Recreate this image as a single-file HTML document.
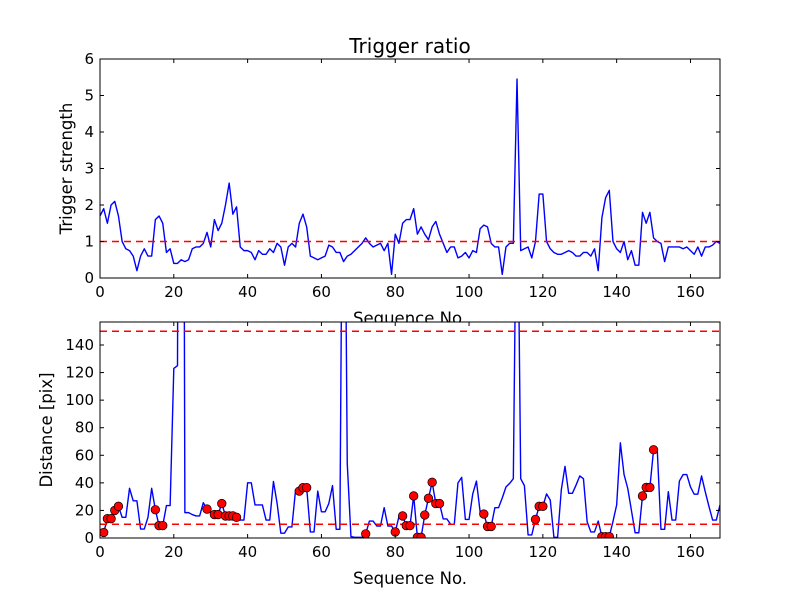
<!DOCTYPE html>
<html><head><meta charset="utf-8"><style>
body{margin:0;background:#fff;}
svg{display:block;font-family:"DejaVu Sans","Liberation Sans",sans-serif;}
</style></head><body>
<svg id="fig" width="800" height="600" xmlns="http://www.w3.org/2000/svg"></svg>
<script>
const xTicks=[0,20,40,60,80,100,120,140,160];
const topTicks=[0,1,2,3,4,5,6];
const botTicks=[0,20,40,60,80,100,120,140];
const ratio=[1.7,1.9,1.5,2.0,2.1,1.7,1.0,0.8,0.75,0.6,0.2,0.6,0.8,0.6,0.6,1.6,1.7,1.5,0.7,0.8,0.4,0.4,0.5,0.45,0.5,0.8,0.85,0.85,0.95,1.25,0.85,1.6,1.3,1.5,2.0,2.6,1.75,1.95,0.85,0.75,0.75,0.7,0.5,0.75,0.65,0.65,0.8,0.7,0.95,0.85,0.35,0.85,0.95,0.85,1.5,1.75,1.4,0.6,0.55,0.5,0.55,0.6,0.9,0.85,0.7,0.7,0.45,0.6,0.65,0.75,0.85,0.95,1.1,0.95,0.85,0.9,0.95,0.75,0.95,0.1,1.2,0.95,1.5,1.6,1.6,1.9,1.2,1.4,1.2,1.05,1.4,1.55,1.2,0.95,0.7,0.85,0.85,0.55,0.6,0.7,0.55,0.75,0.7,1.35,1.45,1.4,0.95,0.85,0.85,0.1,0.85,0.95,0.95,5.45,0.75,0.8,0.85,0.55,1.0,2.3,2.3,1.0,0.8,0.7,0.65,0.65,0.7,0.75,0.7,0.6,0.6,0.7,0.7,0.6,0.8,0.2,1.65,2.2,2.4,1.0,0.8,0.7,1.0,0.5,0.75,0.35,0.35,1.8,1.5,1.8,1.1,1.0,0.95,0.45,0.85,0.85,0.85,0.85,0.8,0.85,0.75,0.65,0.85,0.6,0.85,0.85,0.9,1.0,0.95];
const dist=[3,4,14,14,20,23,15,15,36,27,27,6.5,6.5,15,36,20.5,9,9,23.5,23.5,123,125,1000,18.4,18.4,17,16,16,25.6,21,18,17,17,25,16,16,16,15,13,13,40,40,24,24,24,13,13,41,25,3.5,3.5,8,8,35,34,36.5,36.5,4.4,4.4,34,19,19,25,38,6.3,6.3,400,54,1,0.5,0.5,0.5,3,12.3,12.3,8.7,8.7,22,8.7,8.7,4.4,15.5,16,9,9,30.5,0.5,0.5,16.7,28.8,40.4,25,25,13.8,13.8,10,10,40,44,13.5,13.5,32,41.3,19,17.4,8.4,8.4,22,22,29,37,39.6,43,300,43,38,2.2,2.2,13.5,23,23,32,27.6,0.5,0.5,35,52,32.4,32.4,38.4,45,43,11.8,4.4,4.4,12.3,1,1,1,12,24,69,46,36,20,3.8,3.8,30.5,36.7,36.7,64,64,6.3,6.3,33.6,13,13,41.3,46,46,37,31.8,31.8,45,33.6,23,13,13,24];
const markerIdx=[1,2,3,4,5,15,16,17,29,31,32,33,34,35,36,37,54,55,56,72,80,82,83,84,85,86,87,88,89,90,91,92,104,105,106,118,119,120,136,137,138,147,148,149,150];
const topThresh=[1];
const botThresh=[10,150];

const NS="http://www.w3.org/2000/svg";
const svg=document.getElementById('fig');
function mk(tag,attrs,parent){const e=document.createElementNS(NS,tag);for(const k in attrs)e.setAttribute(k,attrs[k]);(parent||svg).appendChild(e);return e;}
const X0=100,X1=720,XMAX=168;
const sx=v=>X0+v*(X1-X0)/XMAX;
const topY=v=>278-v*(278-59)/6;
const BMAX=(538-322)/((538-345)/140);
const botY=v=>538-v*(538-322)/BMAX;

let t=mk('text',{x:410,y:53,'text-anchor':'middle','font-size':20});t.textContent='Trigger ratio';



function axes(name,yTop,yBot,yfn,ticks,ylabel,ylabelX,vals,thr,xlabelY){
  const g=mk('g',{});
  
  
  let xl=mk('text',{x:410,y:xlabelY,'text-anchor':'middle','font-size':16.5},g);xl.textContent='Sequence No.';
  
  
  mk('rect',{x:X0,y:yTop,width:X1-X0,height:yBot-yTop,fill:'#fff'},g);
  const cid=name+'-clip';
  const cp=mk('clipPath',{id:cid},g);mk('rect',{x:X0,y:yTop,width:X1-X0,height:yBot-yTop},cp);
  const pg=mk('g',{'clip-path':'url(#'+cid+')'},g);
  let d='';vals.forEach((v,i)=>{d+=(i?'L':'M')+sx(i).toFixed(2)+','+yfn(v).toFixed(2);});
  const line=mk('path',{d:d,fill:'none',stroke:'#0000ff','stroke-width':1.4,'stroke-linejoin':'round'},pg);
  
  
  thr.forEach(v=>{
    const l=mk('line',{x1:X0,x2:X1,y1:yfn(v),y2:yfn(v),stroke:'#ff0000','stroke-width':1.5,'stroke-dasharray':'7,5'},pg);
    
    
  });
  xTicks.forEach(v=>{
    const x=sx(v);
    mk('line',{x1:x,x2:x,y1:yBot,y2:yBot-4,stroke:'#000'},g);
    mk('line',{x1:x,x2:x,y1:yTop,y2:yTop+4,stroke:'#000'},g);
    const tl=mk('text',{x:x,y:yBot+19,'text-anchor':'middle','font-size':15},g);tl.textContent=v;
    
    
  });
  ticks.forEach(v=>{
    const y=yfn(v);
    mk('line',{x1:X0,x2:X0+4,y1:y,y2:y,stroke:'#000'},g);
    mk('line',{x1:X1,x2:X1-4,y1:y,y2:y,stroke:'#000'},g);
    const tl=mk('text',{x:X0-6,y:y+5,'text-anchor':'end','font-size':15},g);tl.textContent=v;
    
    
  });
  mk('rect',{x:X0,y:yTop,width:X1-X0,height:yBot-yTop,fill:'none',stroke:'#000','stroke-width':1},g);
  const yc=(yTop+yBot)/2;
  const yl=mk('text',{x:ylabelX,y:yc,'text-anchor':'middle','font-size':16.5,transform:'rotate(-90 '+ylabelX+' '+yc+')'},g);yl.textContent=ylabel;
  
  
  return pg;
}
axes('trigger-ratio-axes',59,278,topY,topTicks,'Trigger strength',72,ratio,topThresh,324);
const bp=axes('distance-axes',322,538,botY,botTicks,'Distance [pix]',52,dist,botThresh,584);
markerIdx.forEach(i=>{
  const c=mk('circle',{cx:sx(i),cy:botY(dist[i]),r:4.3,fill:'#ff0000',stroke:'#000','stroke-width':0.7},bp);
  
  
});
</script>
</body></html>
